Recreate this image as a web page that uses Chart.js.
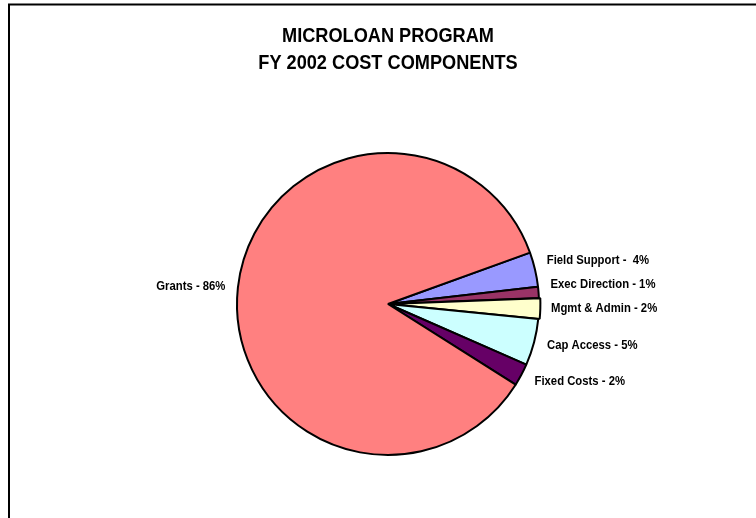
<!DOCTYPE html>
<html>
<head>
<meta charset="utf-8">
<script src="https://cdn.jsdelivr.net/npm/chart.js@4.4.0/dist/chart.umd.min.js"></script>
<style>
    html, body { margin: 0; padding: 0; background: #ffffff; }
    #wrap { width: 756px; height: 518px; }
</style>
</head>
<body>
<div id="wrap"><canvas id="costChart" width="756" height="518"></canvas></div>
<script>
// data, in drawing order (clockwise from Field Support)
var categories = ['Field Support', 'Exec Direction', 'Mgmt & Admin', 'Cap Access', 'Fixed Costs', 'Grants'];
var costShare = [3.7, 1.2, 2.2, 5.0, 2.4, 85.5];
var sliceLabels = ['Field Support -  4%', 'Exec Direction - 1%', 'Mgmt & Admin - 2%', 'Cap Access - 5%', 'Fixed Costs - 2%', 'Grants - 86%'];
var titleLines = ['MICROLOAN PROGRAM', 'FY 2002 COST COMPONENTS'];

var sliceColors = ['#9999FF', '#993366', '#FFFFCC', '#CCFFFF', '#660066', '#FF8080'];
var baseFont = "'Liberation Sans', Arial, sans-serif";

// no narrow font installed, so squeeze the text a bit (looks like Arial Narrow)
function narrowText(ctx, text, x, y, squeeze) {
    ctx.save();
    ctx.translate(x, y);
    ctx.scale(squeeze, 1);
    ctx.fillText(text, 0, 0);
    ctx.restore();
}

//--frame round the chart (right and bottom fall outside the picture)
var framePlugin = {
    id: 'frame',
    beforeDraw: function (chart) {
        var ctx = chart.ctx;
        ctx.save();
        ctx.strokeStyle = '#000000';
        ctx.lineWidth = 2;
        ctx.strokeRect(9, 4.5, 800, 600);
        ctx.restore();
    }
};

//--title, two lines
var titlePlugin = {
    id: 'narrowTitle',
    afterDraw: function (chart) {
        var ctx = chart.ctx;
        var midX = (chart.chartArea.left + chart.chartArea.right) / 2;
        ctx.save();
        ctx.font = 'bold 21px ' + baseFont;
        ctx.fillStyle = '#000000';
        ctx.textAlign = 'center';
        ctx.textBaseline = 'middle';
        titleLines.forEach(function (line, i) {
            narrowText(ctx, line, midX, 36.5 + i * 26.5, 0.865);
        });
        ctx.restore();
    }
};

//--labels outside the slices
var sliceLabelPlugin = {
    id: 'sliceLabels',
    afterDatasetsDraw: function (chart) {
        var ctx = chart.ctx;
        var arcs = chart.getDatasetMeta(0).data;
        var anchorDist = 165;
        var boxDist = 163;
        var halfH = 6;
        var minGap = 24;
        var items = [];

        arcs.forEach(function (arc, i) {
            var p = arc.getProps(['x', 'y', 'startAngle', 'endAngle'], true);
            var mid = (p.startAngle + p.endAngle) / 2;
            items.push({
                i: i,
                cx: p.x,
                cy: p.y,
                right: Math.cos(mid) >= 0,
                y: p.y + anchorDist * Math.sin(mid)
            });
        });

        // push labels on the right apart, upward
        var rightSide = items.filter(function (it) { return it.right; })
            .sort(function (a, b) { return a.y - b.y; });
        for (var k = rightSide.length - 2; k >= 0; k--) {
            if (rightSide[k].y > rightSide[k + 1].y - minGap) {
                rightSide[k].y = rightSide[k + 1].y - minGap;
            }
        }

        ctx.save();
        ctx.font = 'bold 13px ' + baseFont;
        ctx.fillStyle = '#000000';
        ctx.textBaseline = 'middle';
        items.forEach(function (it) {
            var dyc = Math.max(0, Math.abs(it.y - it.cy) - halfH);
            var dx = Math.sqrt(Math.max(boxDist * boxDist - dyc * dyc, 0));
            if (it.right) {
                ctx.textAlign = 'left';
                narrowText(ctx, sliceLabels[it.i], it.cx + dx, it.y, 0.87);
            } else {
                ctx.textAlign = 'right';
                narrowText(ctx, sliceLabels[it.i], it.cx - dx, it.y, 0.87);
            }
        });
        ctx.restore();
    }
};

var ctx = document.getElementById('costChart').getContext('2d');
var costChart = new Chart(ctx, {
    type: 'pie',
    data: {
        labels: categories,
        datasets: [{
            data: costShare,
            backgroundColor: sliceColors,
            borderColor: '#000000',
            borderWidth: 2,
            offset: [0, 0, 3, 0, 0, 0]
        }]
    },
    options: {
        responsive: false,
        devicePixelRatio: 1,
        animation: false,
        rotation: 70.1,
        radius: 151,
        layout: {
            padding: { top: 133, left: 20, right: 0, bottom: 43 }
        },
        plugins: {
            legend: { display: false },
            tooltip: { enabled: false },
            title: { display: false }
        }
    },
    plugins: [framePlugin, sliceLabelPlugin, titlePlugin]
});
</script>
</body>
</html>
